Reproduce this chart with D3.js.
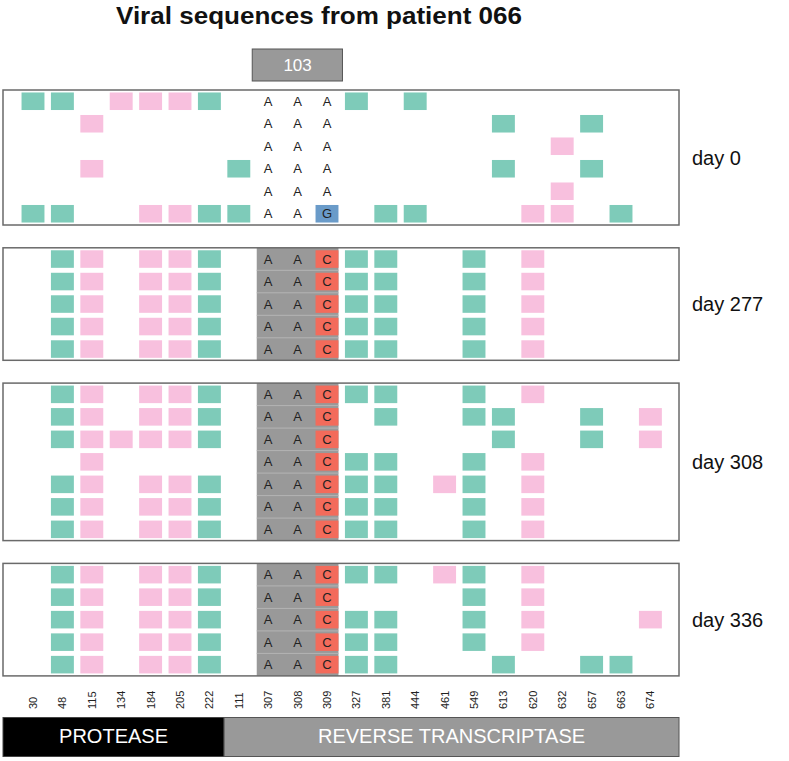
<!DOCTYPE html>
<html>
<head>
<meta charset="utf-8">
<script src="https://cdn.jsdelivr.net/npm/d3@7"></script>
<style>
  body { margin: 0; background: #fff; }
  svg { display: block; font-family: "Liberation Sans", Arial, sans-serif; }
</style>
</head>
<body>
<svg id="chart" width="789" height="761"></svg>
<script>
// ---- DATA ----
const title = "Viral sequences from patient 066";
const codonLabel = "103";
const positions = ["30","48","115","134","184","205","222","111","307","308","309",
                   "327","381","444","461","549","613","620","632","657","663","674"];
const regions = ["PROTEASE", "REVERSE TRANSCRIPTASE"];
const regionSizes = [7, 15]; // number of positions in each region
const dayLabels = ["day 0", "day 277", "day 308", "day 336"];
// T = teal mutation, P = pink mutation, . = none, letters = nucleotide at codon 103
const day0 = [
  "TT.PPPT.AAAT.T........",
  "..P.....AAA.....T..T..",
  "........AAA.......P...",
  "..P....TAAA.....T..T..",
  "........AAA.......P...",
  "TT..PPTTAAG.TT...PP.T."
];
const day277 = [
  ".TP.PPT.AACTT..T.P....",
  ".TP.PPT.AACTT..T.P....",
  ".TP.PPT.AACTT..T.P....",
  ".TP.PPT.AACTT..T.P....",
  ".TP.PPT.AACTT..T.P...."
];
const day308 = [
  ".TP.PPT.AACTT..T.P....",
  ".TP.PPT.AAC.T..TT..T.P",
  ".TPPPPT.AAC.....T..T.P",
  "..P.....AACTT..T.P....",
  ".TP.PPT.AACTT.PT.P....",
  ".TP.PPT.AACTT..T.P....",
  ".TP.PPT.AACTT..T.P...."
];
const day336 = [
  ".TP.PPT.AACTT.PT.P....",
  ".TP.PPT.AAC....T.P....",
  ".TP.PPT.AACTT..T.P...P",
  ".TP.PPT.AACTT..T.P....",
  ".TP.PPT.AACTT...T..TT."
];
const panels = [day0, day277, day308, day336];
const shadedPanels = [false, true, true, true];

// ---- STYLE ----
const colors = { T: "#7ecbb9", P: "#f8c0de", A: "none", C: "#f36b5b", G: "#6a9bc9" };
const svg = d3.select("#chart");

const x = d3.scaleBand().domain(d3.range(positions.length))
  .range([18.3, 665.1]).paddingInner(0.22).paddingOuter(0.11);

const frameX0 = 3, frameX1 = 679;
const rowStep = 22.5;
const gap = 22.8;
let panelTop = 90;

// Title
svg.append("text").attr("x", 319).attr("y", 24).attr("text-anchor", "middle")
  .attr("font-size", 23).attr("font-weight", "bold").attr("fill", "#111")
  .attr("textLength", 406).attr("lengthAdjust", "spacingAndGlyphs").text(title);

// Codon box
const c0 = x(8), c1 = x(10) + x.bandwidth();
svg.append("rect").attr("x", c0 - 4.5).attr("y", 49).attr("width", (c1 - c0) + 8.5).attr("height", 32)
  .attr("fill", "#999").attr("stroke", "#555").attr("stroke-width", 1);
svg.append("text").attr("x", (c0 + c1) / 2).attr("y", 71).attr("text-anchor", "middle")
  .attr("font-size", 17).attr("fill", "#fff").text(codonLabel);

panels.forEach((rows, pi) => {
  const h = rows.length * rowStep;
  const y = d3.scaleBand().domain(d3.range(rows.length)).range([panelTop, panelTop + h])
    .paddingInner(0.22).paddingOuter(0.11);
  const g = svg.append("g");

  if (shadedPanels[pi]) {
    g.append("rect").attr("x", c0).attr("y", panelTop).attr("width", c1 - c0).attr("height", h)
      .attr("fill", "#999");
    g.selectAll("line.sep").data(d3.range(1, rows.length)).join("line")
      .attr("x1", c0).attr("x2", c1)
      .attr("y1", d => panelTop + d * rowStep).attr("y2", d => panelTop + d * rowStep)
      .attr("stroke", "#b4b4b4").attr("stroke-width", 1);
  }

  const cells = [];
  rows.forEach((r, ri) => r.split("").forEach((ch, ci) => { if (ch !== ".") cells.push({ ri, ci, ch }); }));

  g.selectAll("rect.cell").data(cells.filter(d => colors[d.ch] !== "none")).join("rect")
    .attr("x", d => x(d.ci)).attr("y", d => y(d.ri))
    .attr("width", x.bandwidth()).attr("height", y.bandwidth())
    .attr("fill", d => colors[d.ch]);

  g.selectAll("text.nt").data(cells.filter(d => d.ci >= 8 && d.ci <= 10)).join("text")
    .attr("x", d => x(d.ci) + x.bandwidth() / 2).attr("y", d => y(d.ri) + y.bandwidth() / 2 + 4.5)
    .attr("text-anchor", "middle").attr("font-size", 13).attr("fill", "#222").text(d => d.ch);

  g.append("rect").attr("x", frameX0).attr("y", panelTop).attr("width", frameX1 - frameX0).attr("height", h)
    .attr("fill", "none").attr("stroke", "#6a6a6a").attr("stroke-width", 1.5);

  svg.append("text").attr("x", 692).attr("y", panelTop + h / 2 + 7).attr("font-size", 20)
    .attr("fill", "#111").text(dayLabels[pi]);

  panelTop += h + gap;
});

// Position labels
svg.selectAll("text.pos").data(positions).join("text")
  .attr("transform", (d, i) => `translate(${x(i) + x.bandwidth() / 2 + 4},709) rotate(-90)`)
  .attr("text-anchor", "start").attr("font-size", 11).attr("fill", "#222").text(d => d);

// Region bar
const split = (x(regionSizes[0] - 1) + x.bandwidth() + x(regionSizes[0])) / 2;
const barY = 717.5, barH = 39;
svg.append("rect").attr("x", frameX0).attr("y", barY).attr("width", split - frameX0).attr("height", barH)
  .attr("fill", "#000").attr("stroke", "#444").attr("stroke-width", 1);
svg.append("rect").attr("x", split).attr("y", barY).attr("width", frameX1 - split).attr("height", barH)
  .attr("fill", "#999").attr("stroke", "#555").attr("stroke-width", 1);
svg.append("text").attr("x", (frameX0 + split) / 2).attr("y", barY + 25).attr("text-anchor", "middle")
  .attr("font-size", 20).attr("fill", "#fff").text(regions[0]);
svg.append("text").attr("x", (split + frameX1) / 2).attr("y", barY + 25).attr("text-anchor", "middle")
  .attr("font-size", 20).attr("fill", "#fff").text(regions[1]);
</script>
</body>
</html>
